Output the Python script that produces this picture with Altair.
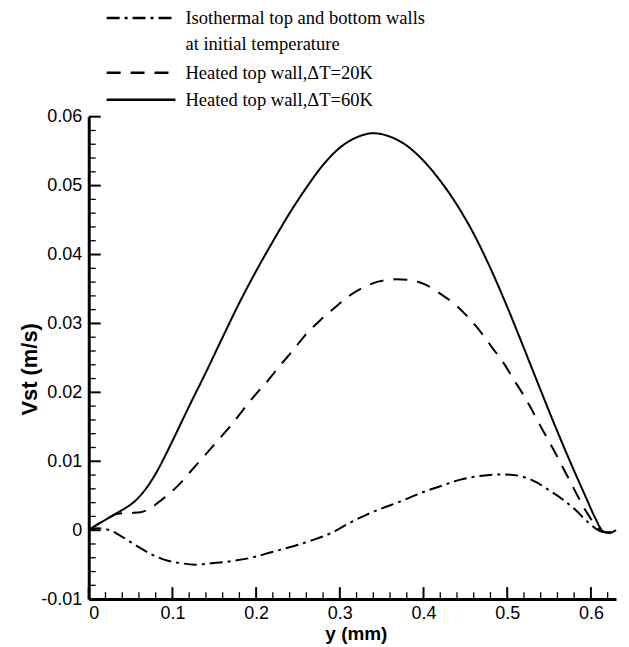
import altair as alt
import pandas as pd

# ---- data ----
x_60 = [0, 0.01, 0.02, 0.035, 0.045, 0.055, 0.065, 0.075, 0.085, 0.095, 0.105, 0.12, 0.14,
        0.16, 0.18, 0.20, 0.22, 0.24, 0.26, 0.28, 0.30, 0.32, 0.34, 0.36, 0.38, 0.40, 0.42,
        0.44, 0.46, 0.48, 0.50, 0.52, 0.54, 0.56, 0.58, 0.595, 0.605, 0.615, 0.622, 0.63]
v_60 = [0, 0.0008, 0.0015, 0.0026, 0.0033, 0.0042, 0.0055, 0.0072, 0.0093, 0.0117, 0.0142,
        0.0180, 0.0229, 0.0280, 0.0330, 0.0376, 0.0419, 0.0460, 0.0497, 0.0530, 0.0555,
        0.0570, 0.0576, 0.0571, 0.0558, 0.0536, 0.0507, 0.0472, 0.0430, 0.0380, 0.0324,
        0.0264, 0.0203, 0.0143, 0.0086, 0.0045, 0.0018, -0.0002, -0.0004, 0.0]

x_20 = [0, 0.01, 0.02, 0.035, 0.05, 0.062, 0.071, 0.087, 0.107, 0.123, 0.139, 0.154, 0.170,
        0.184, 0.198, 0.214, 0.228, 0.244, 0.258, 0.276, 0.296, 0.311, 0.331, 0.347, 0.367,
        0.383, 0.403, 0.419, 0.439, 0.454, 0.470, 0.482, 0.496, 0.506, 0.518, 0.528, 0.538,
        0.548, 0.558, 0.566, 0.576, 0.584, 0.594, 0.605, 0.617, 0.625, 0.63]
v_20 = [0, 0.0008, 0.0015, 0.0024, 0.0025, 0.0026, 0.0030, 0.0044, 0.0065, 0.0087, 0.0109,
        0.0130, 0.0152, 0.0174, 0.0195, 0.0217, 0.0238, 0.0261, 0.0282, 0.0304, 0.0325,
        0.0340, 0.0354, 0.0361, 0.0364, 0.0363, 0.0356, 0.0344, 0.0326, 0.0308, 0.0285,
        0.0265, 0.0242, 0.0222, 0.0199, 0.0178, 0.0155, 0.0133, 0.0111, 0.0092, 0.0069,
        0.0050, 0.0028, 0.0008, -0.0003, -0.0003, 0.0]

x_iso = [0, 0.01, 0.025, 0.039, 0.055, 0.075, 0.091, 0.111, 0.127, 0.147, 0.170, 0.194,
         0.218, 0.242, 0.266, 0.29, 0.311, 0.331, 0.351, 0.371, 0.399, 0.423, 0.443, 0.47,
         0.494, 0.514, 0.534, 0.55, 0.566, 0.582, 0.598, 0.613, 0.622, 0.63]
v_iso = [0, 0.0003, 0.0, -0.0009, -0.0021, -0.0035, -0.0043, -0.0048, -0.0050, -0.0048,
         -0.0045, -0.0040, -0.0032, -0.0024, -0.0015, -0.0004, 0.0010, 0.0022, 0.0032,
         0.0041, 0.0055, 0.0065, 0.0073, 0.0079, 0.0081, 0.0079, 0.0070, 0.0058, 0.0045,
         0.0029, 0.0010, -0.0002, -0.0003, 0.0]

series = ["iso", "dT20", "dT60"]
legend_labels = [["Isothermal top and bottom walls", "at initial temperature"],
                 ["Heated top wall,\u0394T=20K"],
                 ["Heated top wall,\u0394T=60K"]]
dash_styles = [[13, 5, 3, 5], [14, 10], [1, 0]]

x_major = [0, 0.1, 0.2, 0.3, 0.4, 0.5, 0.6]
x_minor = [round(0.02 * i, 2) for i in range(32) if (i % 5) != 0]
y_major = [-0.01, 0, 0.01, 0.02, 0.03, 0.04, 0.05, 0.06]
y_minor = [round(-0.01 + 0.002 * i, 3) for i in range(36) if (i % 5) != 0]

# ---- build tables ----
rows = []
for name, xs, vs in [("iso", x_iso, v_iso), ("dT20", x_20, v_20), ("dT60", x_60, v_60)]:
    for i, (a, b) in enumerate(zip(xs, vs)):
        rows.append({"y": a, "v": b, "series": name, "order": i})
df = pd.DataFrame(rows)

W, H = 529, 484
xscale = alt.Scale(domain=[0, 0.63], nice=False, zero=False)
yscale = alt.Scale(domain=[-0.01, 0.06], nice=False, zero=False)
FONT = "Liberation Sans"
SERIF = "Liberation Serif"

lines = alt.Chart(df).mark_line(color="black", strokeWidth=2, interpolate="monotone").encode(
    x=alt.X("y:Q", scale=xscale,
            axis=alt.Axis(values=x_major, ticks=False, tickSize=0, grid=False,
                          domainColor="black", domainWidth=3,
                          labelFont=FONT, labelFontSize=18, labelColor="black", labelPadding=5,
                          labelExpr="datum.value == 0 ? '0' : format(datum.value, '.1f')",
                          title="y (mm)", titleFont=FONT, titleFontSize=19, titleFontWeight="bold",
                          titleColor="black", titleX=268, titleY=35, titleBaseline="middle",
                          titleAlign="center")),
    y=alt.Y("v:Q", scale=yscale,
            axis=alt.Axis(values=y_major, ticks=False, tickSize=0, grid=False,
                          domainColor="black", domainWidth=3,
                          labelFont=FONT, labelFontSize=18, labelColor="black", labelPadding=7,
                          labelExpr="datum.value == 0 ? '0' : (datum.value < 0 ? '-' : '') + format(abs(datum.value), '.2f')",
                          title="Vst (m/s)", titleFont=FONT, titleFontSize=22, titleFontWeight="bold",
                          titleColor="black", titleX=-59, titleY=253, titleAngle=-90,
                          titleBaseline="middle", titleAlign="center")),
    strokeDash=alt.StrokeDash("series:N", scale=alt.Scale(domain=series, range=dash_styles),
                              legend=None),
    detail="series:N",
    order="order:Q",
)

xmaj = alt.Chart(pd.DataFrame({"t": x_major})).mark_rule(color="black", strokeWidth=2).encode(
    x=alt.X("t:Q", scale=xscale), y=alt.value(H), y2=alt.value(H - 12))
xmin = alt.Chart(pd.DataFrame({"t": x_minor})).mark_rule(color="black", strokeWidth=1.3).encode(
    x=alt.X("t:Q", scale=xscale), y=alt.value(H), y2=alt.value(H - 7))
ymaj = alt.Chart(pd.DataFrame({"t": y_major})).mark_rule(color="black", strokeWidth=2).encode(
    y=alt.Y("t:Q", scale=yscale), x=alt.value(0), x2=alt.value(12))
ymin = alt.Chart(pd.DataFrame({"t": y_minor})).mark_rule(color="black", strokeWidth=1.3).encode(
    y=alt.Y("t:Q", scale=yscale), x=alt.value(0), x2=alt.value(7))

# ---- legend (drawn above the plot) ----
legend_layers = []
row_y = [-99, -44, -17]
for k in range(3):
    legend_layers.append(
        alt.Chart(pd.DataFrame({"s": [series[k]]})).mark_rule(
            color="black", strokeWidth=2.5, strokeDash=dash_styles[k]).encode(
            x=alt.value(18), x2=alt.value(87), y=alt.value(row_y[k]))
    )
    for j, txt in enumerate(legend_labels[k]):
        legend_layers.append(
            alt.Chart(pd.DataFrame({"s": [series[k]]})).mark_text(
                text=txt, font=SERIF, fontSize=18.6, color="black", align="left",
                baseline="middle").encode(
                x=alt.value(97), y=alt.value(row_y[k] + 26 * j))
        )

chart = alt.layer(lines, xmin, xmaj, ymin, ymaj, *legend_layers).properties(
    width=W, height=H,
    autosize=alt.AutoSizeParams(type="none"),
    padding={"left": 81, "top": 108, "right": 5, "bottom": 47},
    background="white",
).configure_view(stroke=None)

chart.save("out.html", embed_options={"renderer": "svg", "actions": False})
